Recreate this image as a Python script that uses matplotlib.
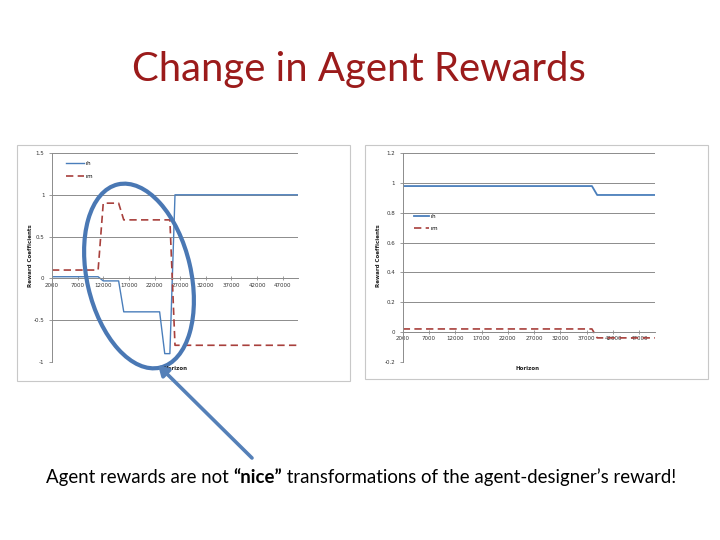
import matplotlib
matplotlib.use("Agg")
import matplotlib.pyplot as plt
from matplotlib.patches import Ellipse, Rectangle

# ---------------- data ----------------
horizon = [2000, 3000, 4000, 5000, 6000, 7000, 8000, 9000, 10000, 11000,
           12000, 13000, 14000, 15000, 16000, 17000, 18000, 19000, 20000, 21000,
           22000, 23000, 24000, 25000, 26000, 27000, 28000, 29000, 30000, 31000,
           32000, 33000, 34000, 35000, 36000, 37000, 38000, 39000, 40000, 41000,
           42000, 43000, 44000, 45000, 46000, 47000, 48000, 49000, 50000]
xtick_vals = [2000, 7000, 12000, 17000, 22000, 27000, 32000, 37000, 42000, 47000]

left_rh = [0.02, 0.02, 0.02, 0.02, 0.02, 0.02, 0.02, 0.02, 0.02, 0.02,
           -0.03, -0.03, -0.03, -0.03,
           -0.4, -0.4, -0.4, -0.4, -0.4, -0.4, -0.4, -0.4,
           -0.9, -0.9,
           1.0, 1.0, 1.0, 1.0, 1.0, 1.0, 1.0, 1.0, 1.0, 1.0, 1.0, 1.0, 1.0,
           1.0, 1.0, 1.0, 1.0, 1.0, 1.0, 1.0, 1.0, 1.0, 1.0, 1.0, 1.0]
left_rm = [0.1, 0.1, 0.1, 0.1, 0.1, 0.1, 0.1, 0.1, 0.1, 0.1,
           0.9, 0.9, 0.9, 0.9,
           0.7, 0.7, 0.7, 0.7, 0.7, 0.7, 0.7, 0.7, 0.7, 0.7,
           -0.8, -0.8, -0.8, -0.8, -0.8, -0.8, -0.8, -0.8, -0.8, -0.8, -0.8,
           -0.8, -0.8, -0.8, -0.8, -0.8, -0.8, -0.8, -0.8, -0.8, -0.8, -0.8,
           -0.8, -0.8, -0.8]
left_yticks = [-1, -0.5, 0, 0.5, 1, 1.5]
left_yticklabels = ["-1", "-0.5", "0", "0.5", "1", "1.5"]

right_rh = [0.98, 0.98, 0.98, 0.98, 0.98, 0.98, 0.98, 0.98, 0.98, 0.98,
            0.98, 0.98, 0.98, 0.98, 0.98, 0.98, 0.98, 0.98, 0.98, 0.98,
            0.98, 0.98, 0.98, 0.98, 0.98, 0.98, 0.98, 0.98, 0.98, 0.98,
            0.98, 0.98, 0.98, 0.98, 0.98, 0.98, 0.98,
            0.92, 0.92, 0.92, 0.92, 0.92, 0.92, 0.92, 0.92, 0.92, 0.92,
            0.92, 0.92]
right_rm = [0.02, 0.02, 0.02, 0.02, 0.02, 0.02, 0.02, 0.02, 0.02, 0.02,
            0.02, 0.02, 0.02, 0.02, 0.02, 0.02, 0.02, 0.02, 0.02, 0.02,
            0.02, 0.02, 0.02, 0.02, 0.02, 0.02, 0.02, 0.02, 0.02, 0.02,
            0.02, 0.02, 0.02, 0.02, 0.02, 0.02, 0.02,
            -0.04, -0.04, -0.04, -0.04, -0.04, -0.04, -0.04, -0.04, -0.04,
            -0.04, -0.04, -0.04]
right_yticks = [-0.2, 0, 0.2, 0.4, 0.6, 0.8, 1, 1.2]
right_yticklabels = ["-0.2", "0", "0.2", "0.4", "0.6", "0.8", "1", "1.2"]

series_names = ["rh", "rm"]
title_text = "Change in Agent Rewards"
caption_parts = [("Agent rewards are not ", "normal"),
                 ("\u201cnice\u201d", "bold"),
                 (" transformations of the agent-designer\u2019s reward!", "normal")]
ylabel_text = "Reward Coefficients"
xlabel_text = "Horizon"

# ---------------- styling ----------------
W, H = 720, 540
BLUE = "#4A7EBB"
RED = "#A8403C"
GRID = "#8C8C8C"
FRAME = "#C8C8C8"

fig = plt.figure(figsize=(7.2, 5.4), dpi=100)
fig.patch.set_facecolor("white")


def px_axes(x0, y0, x1, y1):
    return fig.add_axes([x0 / W, 1 - y1 / H, (x1 - x0) / W, (y1 - y0) / H])


def style_chart(ax, yticks, yticklabels, ylim):
    for s in ["top", "right"]:
        ax.spines[s].set_visible(False)
    ax.spines["bottom"].set_position(("data", 0))
    ax.spines["left"].set_color(GRID)
    ax.spines["left"].set_linewidth(0.7)
    ax.spines["bottom"].set_color(GRID)
    ax.spines["bottom"].set_linewidth(0.7)
    ax.set_xlim(horizon[0], horizon[-1])
    ax.set_ylim(*ylim)
    ax.set_yticks(yticks)
    ax.set_yticklabels(yticklabels)
    ax.set_xticks(xtick_vals)
    ax.set_xticklabels([str(v) for v in xtick_vals])
    ax.grid(axis="y", color=GRID, lw=0.7)
    ax.set_axisbelow(True)
    ax.tick_params(axis="y", length=2.5, width=0.6, color=GRID, pad=3,
                   labelsize=4, labelcolor="#333333")
    ax.tick_params(axis="x", length=2.5, width=0.6, color=GRID, pad=2,
                   direction="inout", labelsize=4, labelcolor="#333333")
    ax.patch.set_alpha(0)


# left chart
axL = px_axes(52, 153, 298, 362)
lh1, = axL.plot(horizon, left_rh, color=BLUE, lw=1.0, label=series_names[0])
lh2, = axL.plot(horizon, left_rm, color=RED, lw=1.2, dashes=(4.4, 2.6),
                label=series_names[1])
style_chart(axL, left_yticks, left_yticklabels, (-1, 1.5))
axL.legend(handles=[lh1, lh2], loc="upper left", bbox_to_anchor=(0.045, 0.975),
           fontsize=4, frameon=False, handlelength=3.2, handletextpad=0.3,
           labelspacing=1.4, borderpad=0)

# right chart
axR = px_axes(402.7, 153.3, 655, 361.7)
rh1, = axR.plot(horizon, right_rh, color=BLUE, lw=1.3, label=series_names[0])
rh2, = axR.plot(horizon, right_rm, color=RED, lw=1.2, dashes=(4.4, 2.6),
                label=series_names[1])
style_chart(axR, right_yticks, right_yticklabels, (-0.2, 1.2))
axR.legend(handles=[rh1, rh2], loc="upper left", bbox_to_anchor=(0.035, 0.72),
           fontsize=4, frameon=False, handlelength=2.6, handletextpad=0.3,
           labelspacing=1.2, borderpad=0)

# overlay in pixel coordinates
ov = fig.add_axes([0, 0, 1, 1], zorder=10)
ov.set_xlim(0, W)
ov.set_ylim(H, 0)
ov.axis("off")
ov.patch.set_alpha(0)

# chart frames
ov.add_patch(Rectangle((17, 145), 333, 236, fill=False, ec=FRAME, lw=0.8))
ov.add_patch(Rectangle((365, 145), 343, 234, fill=False, ec=FRAME, lw=0.8))

# axis titles
ov.text(30, 256, ylabel_text, rotation=90, fontsize=4, fontweight="bold",
        ha="center", va="center", color="#222222")
ov.text(378, 256, ylabel_text, rotation=90, fontsize=4, fontweight="bold",
        ha="center", va="center", color="#222222")
ov.text(176, 368, xlabel_text, fontsize=4, fontweight="bold",
        ha="center", va="center", color="#222222")
ov.text(528, 368, xlabel_text, fontsize=4, fontweight="bold",
        ha="center", va="center", color="#222222")

# title
ov.text(358.5, 81, title_text, fontsize=28.8, family="Lato", color="#9B1B1B",
        ha="center", va="baseline")

# caption with bold part
fig.canvas.draw()
renderer = fig.canvas.get_renderer()
texts = []
for s, w in caption_parts:
    t = ov.text(0, 483, s, fontsize=13.45, family="Lato", fontweight=w,
                color="black", ha="left", va="baseline")
    texts.append(t)
widths = []
inv = ov.transData.inverted()
for t in texts:
    bb = t.get_window_extent(renderer)
    x0 = inv.transform((bb.x0, bb.y0))[0]
    x1 = inv.transform((bb.x1, bb.y0))[0]
    widths.append(x1 - x0)
total = sum(widths)
xcur = 361 - total / 2
for t, wdt in zip(texts, widths):
    t.set_x(xcur)
    xcur += wdt

# annotation ellipse and arrow
ov.add_patch(Ellipse((139, 276), width=104, height=188, angle=-13,
                     fill=False, ec="#4A78B4", lw=3.0))
ov.annotate("", xy=(158, 365), xytext=(252, 458),
            arrowprops=dict(arrowstyle="-|>,head_length=0.6,head_width=0.35",
                            color="#5580B8", lw=2.6, shrinkA=0, shrinkB=0))

fig.savefig("out.png", dpi=100, facecolor="white")
